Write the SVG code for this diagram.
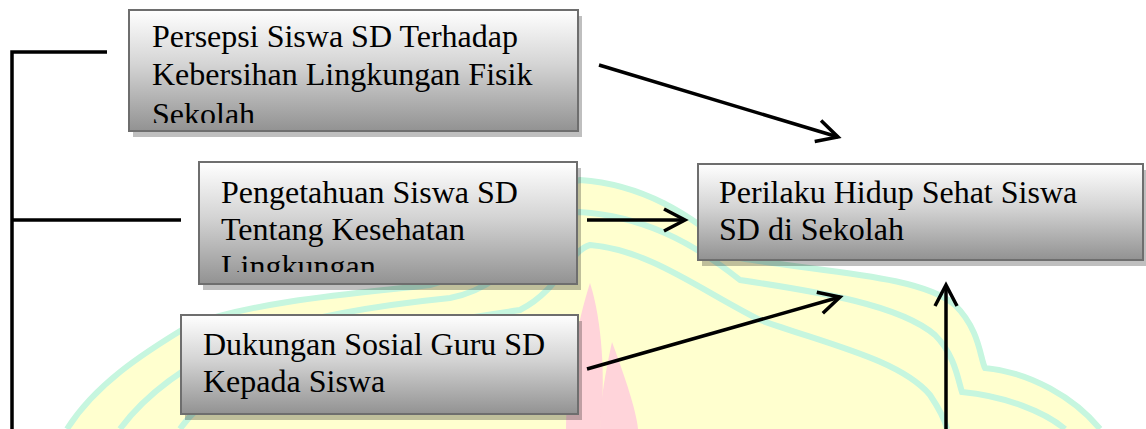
<svg xmlns="http://www.w3.org/2000/svg" width="1146" height="429" viewBox="0 0 1146 429">
  <style>
    .box { stroke: #6e6e6e; stroke-width: 2; fill: url(#boxGrad); }
    .shadow { fill: #000; fill-opacity: 0.25; }
    .lbl { font-family: "Liberation Serif", "Times New Roman", serif; font-size: 32px; fill: #000; }
    .conn { stroke: #000; stroke-width: 3.5; fill: none; }
    .stripe { fill: none; stroke: #c6f6df; stroke-width: 6; }
  </style>
  <defs>
    <linearGradient id="boxGrad" x1="0" y1="0" x2="0" y2="1">
      <stop offset="0" stop-color="#ffffff"/>
      <stop offset="0.45" stop-color="#d4d4d4"/>
      <stop offset="1" stop-color="#929292"/>
    </linearGradient>
    <marker id="ah" viewBox="-26 -14 32 28" refX="0" refY="0" markerWidth="32" markerHeight="28" markerUnits="userSpaceOnUse" orient="auto">
      <path d="M-21,-11 L0,0 L-21,11" fill="none" stroke="#000" stroke-width="3.5"/>
    </marker>
    <clipPath id="c1"><rect x="130" y="11" width="447" height="112"/></clipPath>
    <clipPath id="c2"><rect x="200" y="163" width="376" height="109"/></clipPath>
    <clipPath id="c3"><rect x="182" y="316" width="395" height="97"/></clipPath>
    <clipPath id="c4"><rect x="699" y="165" width="443" height="94"/></clipPath>
  </defs>

  <rect width="1146" height="429" fill="#ffffff"/>

  <g id="watermark">
    <path d="M67 429 C95 385 140 355 190 325 C260 300 360 293 430 285 C490 270 530 190 580 180 C640 184 690 212 740 258 C820 272 920 275 955 305 C980 330 980 358 985 368 C1030 372 1075 398 1100 429 Z" fill="#ffffcf"/>
    <path class="stripe" d="M67 429 C95 385 140 355 190 325 C260 300 360 293 430 285 C490 270 530 190 580 180 C640 184 690 212 740 258 C820 272 920 275 955 305 C980 330 980 358 985 368 C1030 372 1075 398 1100 429"/>
    <path class="stripe" d="M120 429 C145 395 185 365 240 340 C300 318 380 305 450 298 C520 285 540 215 580 212 C640 216 690 240 740 280 C820 292 900 305 935 335 C955 355 958 380 962 392 C1005 396 1045 412 1065 429"/>
    <path class="stripe" d="M180 429 C200 400 240 375 290 358 C360 335 450 320 520 310 C560 290 570 250 590 245 C650 250 700 290 760 320 C830 345 900 360 930 395 C940 410 945 420 947 429"/>
    <path d="M590 283 C602 320 606 380 600 429 L566 429 C566 380 578 320 590 283 Z" fill="#ffd4da"/>
    <path d="M612 342 C626 380 636 410 638 429 L600 429 C600 400 606 370 612 342 Z" fill="#ffd4da"/>
  </g>

  <g id="connectors">
    <polyline class="conn" points="107,52 12,52 12,429"/>
    <line class="conn" x1="12" y1="220" x2="181" y2="220"/>
    <line class="conn" x1="599" y1="65" x2="838" y2="137" marker-end="url(#ah)"/>
    <line class="conn" x1="587" y1="220" x2="685" y2="220" marker-end="url(#ah)"/>
    <line class="conn" x1="587" y1="369" x2="840" y2="297" marker-end="url(#ah)"/>
    <line class="conn" x1="946" y1="429" x2="946" y2="285" marker-end="url(#ah)"/>
  </g>

  <g id="node-persepsi">
    <rect class="shadow" x="133" y="16" width="449" height="121"/>
    <rect class="box" x="129" y="10" width="449" height="121"/>
    <g clip-path="url(#c1)">
      <text class="lbl" x="152" y="47">Persepsi Siswa SD Terhadap</text>
      <text class="lbl" x="152" y="85">Kebersihan Lingkungan Fisik</text>
      <text class="lbl" x="152" y="125">Sekolah</text>
    </g>
  </g>

  <g id="node-pengetahuan">
    <rect class="shadow" x="203" y="168" width="378" height="122"/>
    <rect class="box" x="199" y="162" width="378" height="122"/>
    <g clip-path="url(#c2)">
      <text class="lbl" x="221" y="203">Pengetahuan Siswa SD</text>
      <text class="lbl" x="221" y="240">Tentang Kesehatan</text>
      <text class="lbl" x="221" y="277">Lingkungan</text>
    </g>
  </g>

  <g id="node-dukungan">
    <rect class="shadow" x="185" y="321" width="397" height="99"/>
    <rect class="box" x="181" y="315" width="397" height="99"/>
    <g clip-path="url(#c3)">
      <text class="lbl" x="203" y="355">Dukungan Sosial Guru SD</text>
      <text class="lbl" x="203" y="392">Kepada Siswa</text>
    </g>
  </g>

  <g id="node-perilaku">
    <rect class="shadow" x="702" y="170" width="445" height="96"/>
    <rect class="box" x="698" y="164" width="445" height="96"/>
    <g clip-path="url(#c4)">
      <text class="lbl" x="719" y="203">Perilaku Hidup Sehat Siswa</text>
      <text class="lbl" x="719" y="240">SD di Sekolah</text>
    </g>
  </g>
</svg>
